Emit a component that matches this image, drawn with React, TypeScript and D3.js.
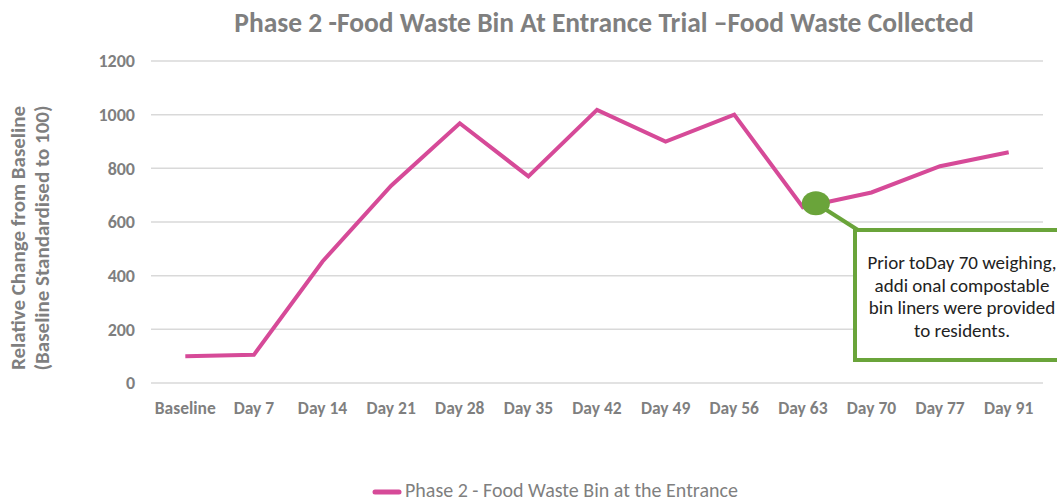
import React, { useEffect, useRef } from 'react';
import * as d3 from 'd3';

const categories = ['Baseline', 'Day 7', 'Day 14', 'Day 21', 'Day 28', 'Day 35', 'Day 42', 'Day 49', 'Day 56', 'Day 63', 'Day 70', 'Day 77', 'Day 91'];
const values = [100, 105, 453, 735, 968, 770, 1018, 900, 1000, 655, 710, 808, 860];
const yTicks = [0, 200, 400, 600, 800, 1000, 1200];
const seriesName = 'Phase 2 - Food Waste Bin at the Entrance';
const calloutLines = ['Prior toDay 70 weighing,', 'addi onal compostable', 'bin liners were provided', 'to residents.'];

const App = () => {
  const ref = useRef<SVGSVGElement>(null);
  const width = 1057;
  const height = 502;
  const margin = { top: 61, right: 14, bottom: 119, left: 151 };
  const pink = '#d64a98';
  const green = '#6aa43a';
  const grey = '#7f7f7f';
  const font = 'Carlito, Lato, sans-serif';

  useEffect(() => {
    const svg = d3.select(ref.current);
    svg.selectAll('*').remove();

    const x = d3.scaleBand()
      .domain(categories)
      .range([margin.left, width - margin.right])
      .padding(0);

    const y = d3.scaleLinear()
      .domain([0, 1200])
      .range([height - margin.bottom, margin.top]);

    const cx = (d: string) => (x(d) as number) + x.bandwidth() / 2;

    // title
    svg.append('text')
      .attr('x', 604)
      .attr('y', 32)
      .attr('text-anchor', 'middle')
      .attr('font-family', font)
      .attr('font-weight', 'bold')
      .attr('font-size', 27.5)
      .attr('fill', grey)
      .text('Phase 2 -Food Waste Bin At Entrance Trial \u2013Food Waste Collected');

    // gridlines
    svg.append('g')
      .selectAll('line')
      .data(yTicks)
      .join('line')
      .attr('x1', margin.left)
      .attr('x2', width - margin.right)
      .attr('y1', d => y(d))
      .attr('y2', d => y(d))
      .attr('stroke', '#d9d9d9')
      .attr('stroke-width', 1.5);

    // y labels
    svg.append('g')
      .selectAll('text')
      .data(yTicks)
      .join('text')
      .attr('x', 135)
      .attr('y', d => y(d))
      .attr('dy', '0.35em')
      .attr('text-anchor', 'end')
      .attr('font-family', font)
      .attr('font-weight', 'bold')
      .attr('font-size', 18)
      .attr('fill', grey)
      .text(d => d);

    // x labels
    svg.append('g')
      .selectAll('text')
      .data(categories)
      .join('text')
      .attr('x', d => cx(d))
      .attr('y', 414)
      .attr('text-anchor', 'middle')
      .attr('font-family', font)
      .attr('font-weight', 'bold')
      .attr('font-size', 17.5)
      .attr('fill', grey)
      .text(d => d);

    // y axis title
    const yt = svg.append('text')
      .attr('transform', 'translate(0,238) rotate(-90)')
      .attr('text-anchor', 'middle')
      .attr('font-family', font)
      .attr('font-weight', 'bold')
      .attr('font-size', 21)
      .attr('fill', grey);
    yt.append('tspan').attr('x', 0).attr('y', 25).text('Relative Change from Baseline');
    yt.append('tspan').attr('x', 0).attr('y', 49).text('(Baseline Standardised to 100)');

    // series line
    const line = d3.line<number>()
      .x((d, i) => cx(categories[i]))
      .y(d => y(d));

    svg.append('path')
      .datum(values)
      .attr('d', line)
      .attr('fill', 'none')
      .attr('stroke', pink)
      .attr('stroke-width', 4)
      .attr('stroke-linejoin', 'miter');

    // callout
    const ax = cx('Day 63') + x.bandwidth() * 0.19;
    const ay = y(655) - 4;
    svg.append('polyline')
      .attr('points', `${ax},${ay} ${ax + 42},${230}`)
      .attr('fill', 'none')
      .attr('stroke', green)
      .attr('stroke-width', 4);
    svg.append('rect')
      .attr('x', 855)
      .attr('y', 230)
      .attr('width', 220)
      .attr('height', 130)
      .attr('fill', 'white')
      .attr('stroke', green)
      .attr('stroke-width', 4);
    svg.append('ellipse')
      .attr('cx', ax)
      .attr('cy', ay)
      .attr('rx', 14)
      .attr('ry', 12)
      .attr('fill', green);
    svg.append('g')
      .selectAll('text')
      .data(calloutLines)
      .join('text')
      .attr('x', 962)
      .attr('y', (d, i) => 269 + i * 22.5)
      .attr('text-anchor', 'middle')
      .attr('font-family', font)
      .attr('font-size', 19)
      .attr('fill', '#222')
      .text(d => d);

    // legend
    svg.append('line')
      .attr('x1', 375)
      .attr('x2', 399)
      .attr('y1', 492)
      .attr('y2', 492)
      .attr('stroke', pink)
      .attr('stroke-width', 5)
      .attr('stroke-linecap', 'round');
    svg.append('text')
      .attr('x', 405)
      .attr('y', 497)
      .attr('font-family', font)
      .attr('font-size', 20)
      .attr('fill', grey)
      .text(seriesName);
  }, []);

  return (
    <svg
      ref={ref}
      width={width}
      height={height}
      style={{ position: 'absolute', left: 0, top: 0, background: 'white' }}
    />
  );
};

export default App;
